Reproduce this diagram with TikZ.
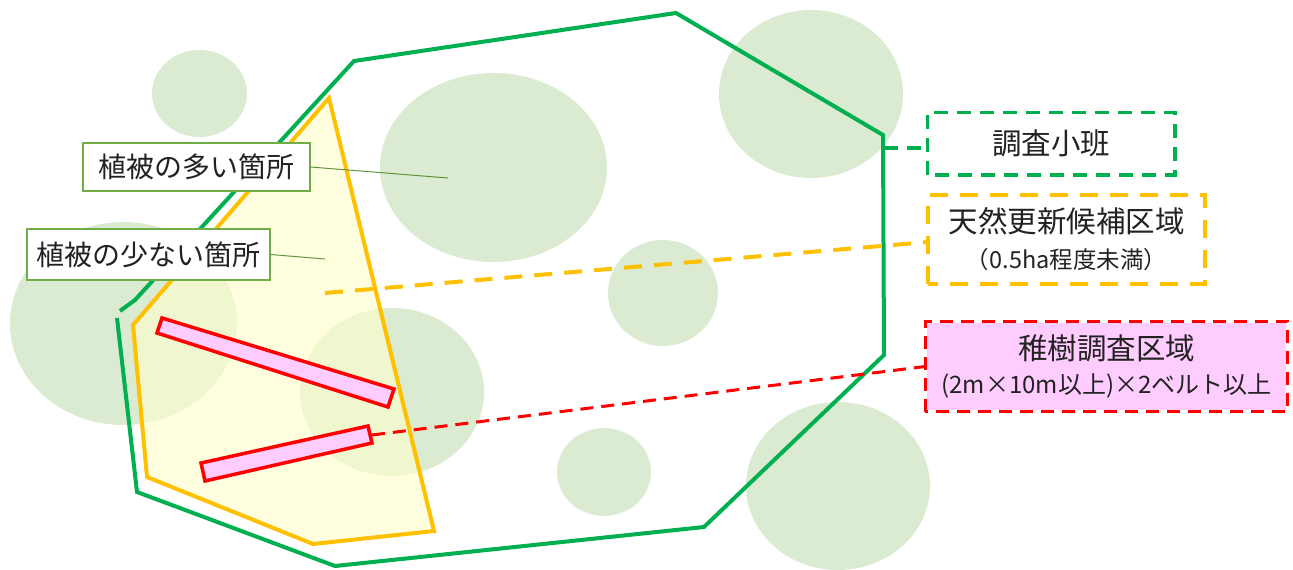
\documentclass[tikz,border=0pt]{standalone}
\usepackage{fontspec}
\setmainfont{Noto Sans CJK JP}
\definecolor{cgreen}{HTML}{00B050}
\definecolor{cyellow}{HTML}{FFC000}
\definecolor{cred}{HTML}{FF0000}
\definecolor{cpink}{HTML}{FFCCFF}
\definecolor{ccircle}{HTML}{DAEBD1}
\definecolor{cyfill}{HTML}{FFFFCC}
\definecolor{clbl}{HTML}{70AD47}
\definecolor{ctext}{HTML}{222222}
\tikzset{
  blob/.style={fill=ccircle, draw=none},
  lbl/.style={draw=clbl, line width=1.2pt, fill=white, text=ctext, inner sep=0pt,
    font=\fontsize{28}{32}\selectfont},
  lblline/.style={draw=clbl!85!black, line width=1pt},
  legend/.style={line width=3.5pt, text=ctext, inner sep=0pt, align=center},
  gdash/.style={draw=cgreen, line width=3.5pt, dash pattern=on 14pt off 9pt},
  ydash/.style={draw=cyellow, line width=4pt, dash pattern=on 18pt off 12pt},
  rdash/.style={draw=cred, line width=3pt, dash pattern=on 13pt off 8pt},
  belt/.style={draw=cred, fill=cpink, line width=3.5pt, line join=miter},
}
\begin{document}
\begin{tikzpicture}[x=1pt,y=-1pt]
\useasboundingbox (0,0) rectangle (1293,570);
% vegetation patches
\fill[blob] (199.5,93.5) ellipse [x radius=47.5, y radius=43.5];
\fill[blob] (123.5,323.5) ellipse [x radius=113.5, y radius=101.5];
\fill[blob] (493.5,167.5) ellipse [x radius=113.5, y radius=94.5];
\fill[blob] (811,94) ellipse [x radius=92, y radius=84];
\fill[blob] (663,293) ellipse [x radius=55, y radius=53];
\fill[blob] (392,392) ellipse [x radius=92, y radius=84];
\fill[blob] (604,472) ellipse [x radius=47, y radius=44];
\fill[blob] (838,486) ellipse [x radius=92, y radius=84];
% candidate area
\fill[cyfill, fill opacity=0.6] (329,98) -- (133,325) -- (147,477) -- (313,544) -- (434,531) -- cycle;
% survey sub-compartment
\draw[cgreen, line width=4pt, line join=miter] (120,311) -- (135,300) -- (354,61) -- (676,13) -- (883,135)
  -- (884,355) -- (704,527) -- (335,566) -- (137,492) -- (117,318);
\draw[cyellow, line width=4pt, line join=miter] (329,98) -- (133,325) -- (147,477) -- (313,544) -- (434,531) -- cycle;
% belts
\draw[belt] (162,318) -- (157,333) -- (388,407) -- (394,389) -- cycle;
\draw[belt] (201,463) -- (205,481) -- (372,443) -- (368,426) -- cycle;
% coordinates
\coordinate (pmany) at (448,178);
\coordinate (pfew) at (325,259);
\coordinate (pgreen) at (884,148);
\coordinate (pyellow) at (325,293);
\coordinate (pred) at (372,435);
% labels
\node[lbl, minimum width=227pt, minimum height=48pt] (many) at (196.5,167) {植被の多い箇所};
\node[lbl, minimum width=243pt, minimum height=51pt] (few) at (148.5,254.5) {植被の少ない箇所};
\draw[lblline] (many.east) -- (pmany);
\draw[lblline] (few.east) -- (pfew);
% legend boxes
\node[legend, minimum width=244pt, minimum height=59pt, font=\fontsize{29.5}{34}\selectfont] (han) at (1051,143.5) {調査小班};
\draw[gdash] (han.south west) rectangle (han.north east);
\node[legend, minimum width=273pt, minimum height=85pt, font=\fontsize{29.5}{36}\selectfont] (cand) at (1066.5,239.5)
  {天然更新候補区域\\{\fontsize{23.5}{36}\selectfont （0.5ha程度未満）}};
\draw[ydash] (cand.south west) rectangle (cand.north east);
\fill[cpink] (927,323) rectangle (1286,410);
\node[legend, minimum width=359pt, minimum height=87pt, font=\fontsize{29.5}{34}\selectfont] (seed) at (1106.5,366.5)
  {稚樹調査区域\\{\fontsize{24}{34}\selectfont (2m×10m以上)×2ベルト以上}};
\draw[rdash] (seed.south west) rectangle (seed.north east);
% connectors
\draw[gdash] (pgreen) -- (pgreen -| han.west);
\draw[ydash] (pyellow) -- ([yshift=-2.5pt]cand.west);
\draw[rdash] (pred) -- (seed.west);
\end{tikzpicture}
\end{document}
